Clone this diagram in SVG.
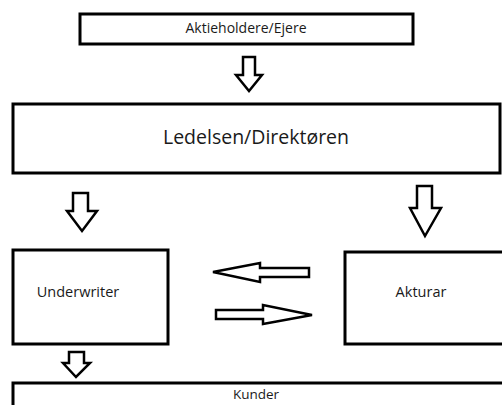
<svg xmlns="http://www.w3.org/2000/svg" width="502" height="405" viewBox="0 0 502 405">
<style>
.box{fill:#fff;stroke:#000;stroke-width:3}
.arr{fill:#fff;stroke:#000;stroke-width:2.5;stroke-linejoin:miter}
text{font-family:"Open Sans","Noto Sans","Liberation Sans",sans-serif;fill:#1a1a1a;text-anchor:middle}
</style>
<rect width="502" height="405" fill="#fff"/>
<g id="aktieholdere">
<rect class="box" x="80" y="14" width="333" height="30"/>
<text x="246" y="33" font-size="14">Aktieholdere/Ejere</text>
</g>
<g id="ledelsen">
<rect class="box" x="13" y="104" width="487" height="69"/>
<text x="256" y="144" font-size="19.5">Ledelsen/Direktøren</text>
</g>
<g id="underwriter">
<rect class="box" x="13" y="250" width="155" height="94"/>
<text x="78" y="297" font-size="14.5">Underwriter</text>
</g>
<g id="akturar">
<rect class="box" x="345" y="252" width="160" height="92"/>
<text x="421" y="297" font-size="14.5">Akturar</text>
</g>
<g id="kunder">
<rect class="box" x="13" y="383" width="492" height="30"/>
<text x="256" y="399" font-size="13.5">Kunder</text>
</g>
<g id="connectors">
<polygon class="arr" points="243,57 255,57 255,75 262,75 249,91 236,75 243,75"/>
<polygon class="arr" points="73,193 88,193 88,211 97,211 82,231 67,211 73,211"/>
<polygon class="arr" points="417,186 432,186 432,208 441,208 425,236 410,208 417,208"/>
<polygon class="arr" points="69,352 84,352 84,363 90,363 76,377 63,363 69,363"/>
<polygon class="arr" points="213,272 260,263 260,268 309,268 309,277 260,277 260,282"/>
<polygon class="arr" points="216,310 263,310 263,305 312,315 263,324 263,319 216,319"/>
</g>
</svg>
